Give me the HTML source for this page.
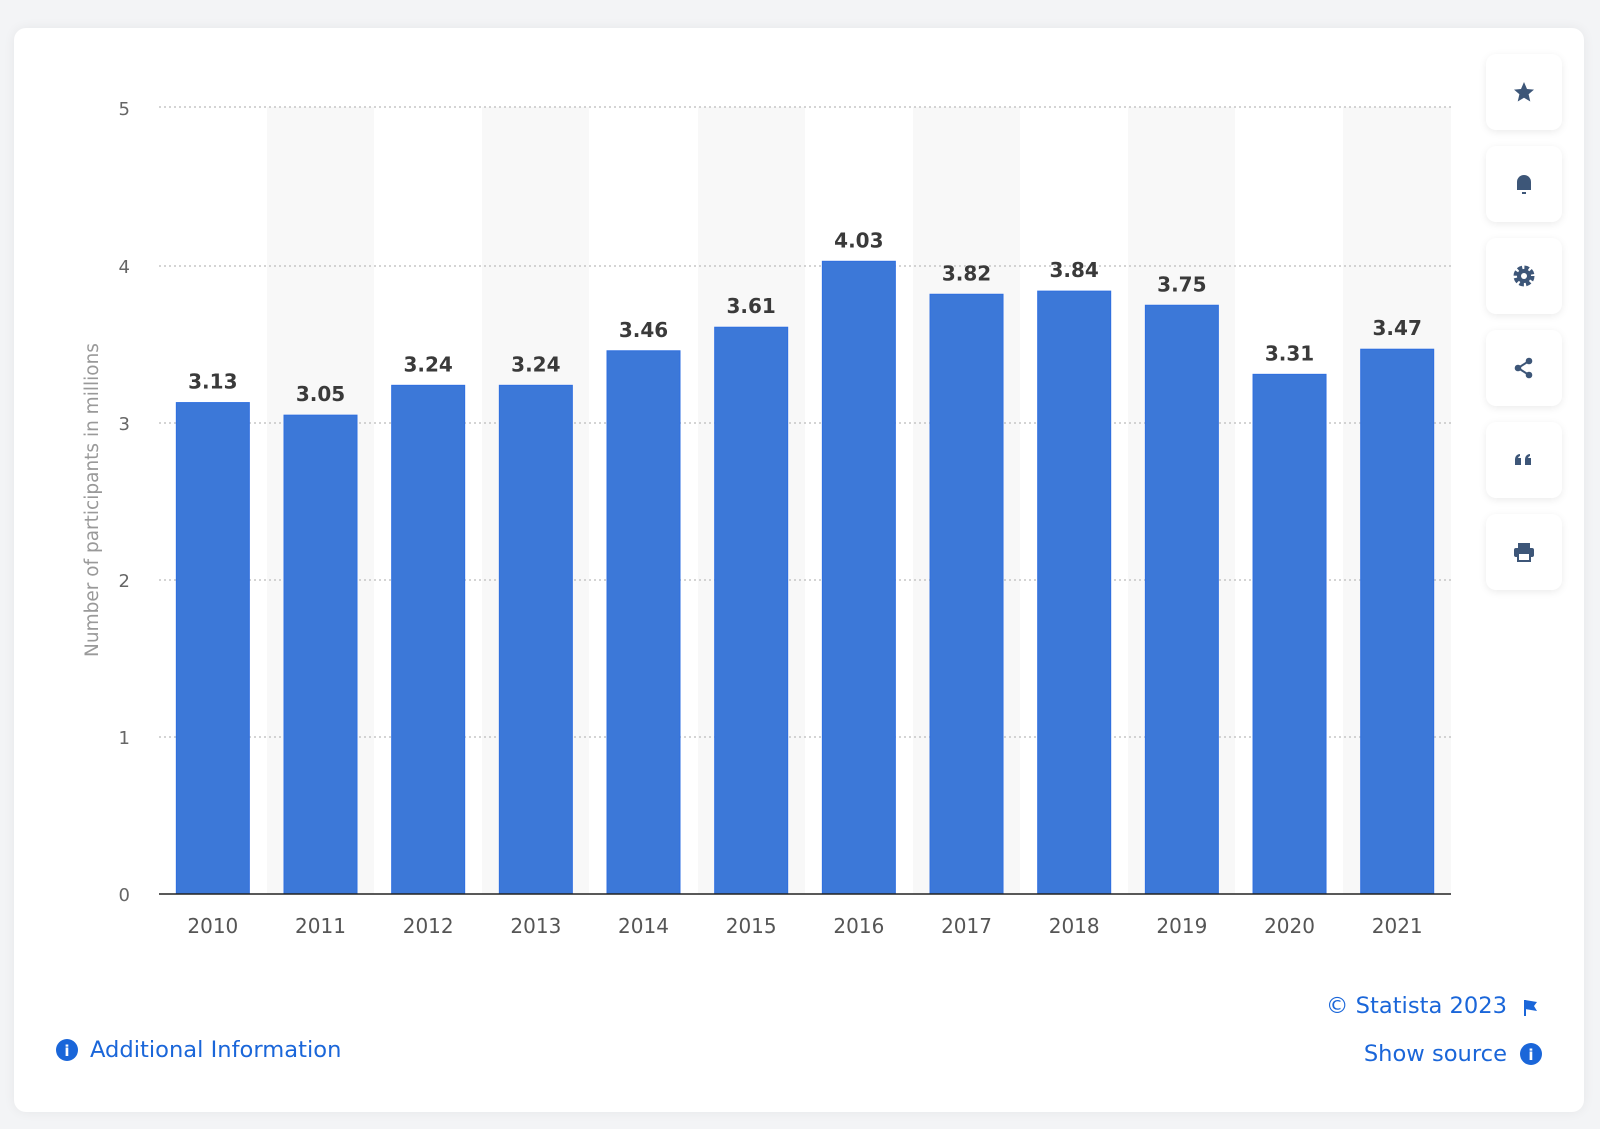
<!DOCTYPE html>
<html><head><meta charset="utf-8"><style>
body{margin:0;background:#f3f4f6;font-family:"DejaVu Sans","Liberation Sans",sans-serif;}
.card{position:absolute;left:14px;top:28px;width:1570px;height:1084px;background:#fff;border-radius:12px;box-shadow:0 0 12px rgba(0,0,0,0.06);}
.btn{position:absolute;left:1486px;width:76px;height:76px;background:#fff;border-radius:10px;box-shadow:0 2px 8px rgba(0,0,0,0.08);}
.btn svg{position:absolute;left:26px;top:26px;}
.lnk{position:absolute;color:#1a66d9;font-size:22.6px;}
svg text{font-family:"DejaVu Sans","Liberation Sans",sans-serif;}
</style></head><body>
<div class="card"></div>
<svg width="1600" height="1129" style="position:absolute;left:0;top:0">
<g fill="#f8f8f8">
<rect x="267" y="107" width="107" height="787"/><rect x="482" y="107" width="107" height="787"/>
<rect x="698" y="107" width="107" height="787"/><rect x="913" y="107" width="107" height="787"/>
<rect x="1128" y="107" width="107" height="787"/><rect x="1343" y="107" width="108" height="787"/>
</g>
<g stroke="#bbb" stroke-dasharray="2,3" stroke-width="1.2">
<line x1="159" x2="1451" y1="107" y2="107"/><line x1="159" x2="1451" y1="266" y2="266"/>
<line x1="159" x2="1451" y1="423" y2="423"/><line x1="159" x2="1451" y1="580" y2="580"/>
<line x1="159" x2="1451" y1="737" y2="737"/>
</g>
<g font-size="18" fill="#666" text-anchor="end">
<text x="130" y="115">5</text><text x="130" y="273">4</text><text x="130" y="430">3</text>
<text x="130" y="587">2</text><text x="130" y="744">1</text><text x="130" y="901">0</text>
</g>
<text transform="translate(98,500) rotate(-90)" font-size="18.5" fill="#999" text-anchor="middle">Number of participants in millions</text>
<g id="bars" fill="#3c78d8" stroke="#2f6fe0" stroke-width="1"></g>
<g id="vals" font-size="20" font-weight="bold" fill="#3a3a3a" text-anchor="middle"></g>
<g id="yrs" font-size="20" fill="#555" text-anchor="middle"></g>
<line x1="159" x2="1451" y1="894" y2="894" stroke="#222" stroke-width="1.5"/>
<circle cx="67" cy="1050" r="11" fill="#1a66d9"/><text x="67" y="1056" font-size="15" font-weight="bold" fill="#fff" text-anchor="middle">i</text>
<circle cx="1531" cy="1054" r="11" fill="#1a66d9"/><text x="1531" y="1060" font-size="15" font-weight="bold" fill="#fff" text-anchor="middle">i</text>
<path d="M1525 1000 L1525 1016" stroke="#1a66d9" stroke-width="2"/><path d="M1525 1000 L1537 1002 L1534 1006 L1537 1011 L1525 1009Z" fill="#1a66d9"/>
</svg>
<div class="lnk" style="left:90px;top:1037px">Additional Information</div>
<div class="lnk" style="right:93px;top:993px">© Statista 2023</div>
<div class="lnk" style="right:93px;top:1041px">Show source</div>
<div class="btn" style="top:54px"><svg width="24" height="24" viewBox="0 0 24 24"><path fill="#3d5678" d="M12 2l3 7 7 .6-5.4 4.7 1.7 7.2L12 17.8 5.7 21.5l1.7-7.2L2 9.6 9 9z"/></svg></div>
<div class="btn" style="top:146px"><svg width="24" height="24" viewBox="0 0 24 24"><path fill="#3d5678" d="M5 18V10a7 7 0 0114 0v8z"/><rect x="10" y="20" width="4" height="2" fill="#3d5678"/></svg></div>
<div class="btn" style="top:238px"><svg width="24" height="24" viewBox="0 0 24 24"><circle cx="12" cy="12" r="8.5" fill="none" stroke="#3d5678" stroke-width="4" stroke-dasharray="4.5 2.2"/><circle cx="12" cy="12" r="7" fill="#3d5678"/><circle cx="12" cy="12" r="3" fill="#fff"/></svg></div>
<div class="btn" style="top:330px"><svg width="24" height="24" viewBox="0 0 24 24"><circle cx="17" cy="5" r="3.3" fill="#3d5678"/><circle cx="6" cy="12" r="3.3" fill="#3d5678"/><circle cx="17" cy="19" r="3.3" fill="#3d5678"/><path d="M17 5L6 12l11 7" stroke="#3d5678" stroke-width="2" fill="none"/></svg></div>
<div class="btn" style="top:422px"><svg width="24" height="24" viewBox="0 0 24 24"><path fill="#3d5678" d="M3 11a5 5 0 015-5v2a3 3 0 00-2 2h3v7H3zM13 11a5 5 0 015-5v2a3 3 0 00-2 2h3v7h-6z"/></svg></div>
<div class="btn" style="top:514px"><svg width="24" height="24" viewBox="0 0 24 24"><rect x="6" y="3" width="12" height="5" fill="#3d5678"/><rect x="2" y="8" width="20" height="9" rx="2" fill="#3d5678"/><rect x="6" y="13" width="12" height="8" fill="#fff" stroke="#3d5678" stroke-width="2"/></svg></div>
<script>
var v=[3.13,3.05,3.24,3.24,3.46,3.61,4.03,3.82,3.84,3.75,3.31,3.47],ns="http://www.w3.org/2000/svg";
var b=document.getElementById('bars'),t=document.getElementById('vals'),y=document.getElementById('yrs');
v.forEach(function(d,i){var cx=159+107.67*(i+0.5),top=894-d*157;
var r=document.createElementNS(ns,'rect');r.setAttribute('x',cx-36.5);r.setAttribute('y',top);r.setAttribute('width',73);r.setAttribute('height',894-top);b.appendChild(r);
var a=document.createElementNS(ns,'text');a.setAttribute('x',cx);a.setAttribute('y',top-14);a.textContent=d.toFixed(2);t.appendChild(a);
var c=document.createElementNS(ns,'text');c.setAttribute('x',cx);c.setAttribute('y',933);c.textContent=2010+i;y.appendChild(c);});
</script>
</body></html>
